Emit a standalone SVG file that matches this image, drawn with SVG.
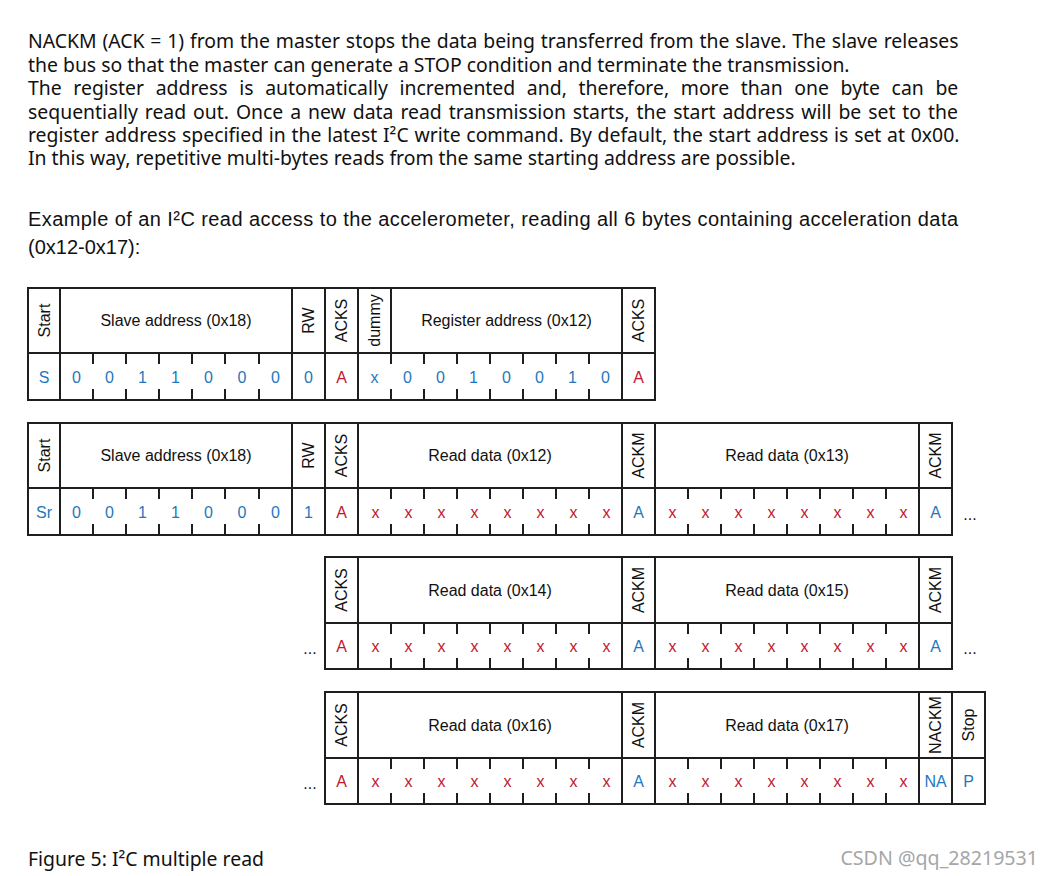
<svg xmlns="http://www.w3.org/2000/svg" width="1043" height="876" viewBox="0 0 1043 876">
<style>
.ln{fill:none;stroke:#1e1e1e;stroke-width:2}
.h{font-family:"Liberation Sans",Arial,sans-serif;font-size:16px;fill:#111;text-anchor:middle;dominant-baseline:central}
.d{font-family:"Liberation Sans",Arial,sans-serif;font-size:16px;text-anchor:middle;dominant-baseline:central}
.bl{fill:#1f77bd}
.rd{fill:#c3162c}
.k{fill:#111}
.p{font-family:"Noto Sans","Open Sans",sans-serif;font-size:19.4px;fill:#111}
.a{font-family:"Liberation Sans",Arial,sans-serif;font-size:20px;fill:#111}
</style>
<rect width="1043" height="876" fill="#fff"/>

<g id="paragraph">
<text class="p" x="28" y="48" word-spacing="0.8">NACKM (ACK = 1) from the master stops the data being transferred from the slave. The slave releases</text>
<text class="p" x="28" y="71.5">the bus so that the master can generate a STOP condition and terminate the transmission.</text>
<text class="p" x="28" y="95" word-spacing="6.6">The register address is automatically incremented and, therefore, more than one byte can be</text>
<text class="p" x="28" y="118.5" word-spacing="1.9">sequentially read out. Once a new data read transmission starts, the start address will be set to the</text>
<text class="p" x="28" y="142" word-spacing="0.7">register address specified in the latest I²C write command. By default, the start address is set at 0x00.</text>
<text class="p" x="28" y="165">In this way, repetitive multi-bytes reads from the same starting address are possible.</text>
</g>

<g id="example-intro">
<text class="a" x="28" y="226" textLength="930" lengthAdjust="spacing">Example of an I²C read access to the accelerometer, reading all 6 bytes containing acceleration data</text>
<text class="a" x="28" y="254">(0x12-0x17):</text>
</g>

<g id="connectors">
<path class="ln" d="M93 353V364M93 389V400M126 353V364M126 389V400M159 353V364M159 389V400M192 353V364M192 389V400M225 353V364M225 389V400M259 353V364M259 389V400M391 353V364M391 389V400M424 353V364M424 389V400M457 353V364M457 389V400M490 353V364M490 389V400M523 353V364M523 389V400M556 353V364M556 389V400M589 353V364M589 389V400"/>
<path class="ln" d="M93 488V499M93 524V535M126 488V499M126 524V535M159 488V499M159 524V535M192 488V499M192 524V535M225 488V499M225 524V535M259 488V499M259 524V535M391 488V499M391 524V535M424 488V499M424 524V535M457 488V499M457 524V535M490 488V499M490 524V535M523 488V499M523 524V535M556 488V499M556 524V535M589 488V499M589 524V535M688 488V499M688 524V535M721 488V499M721 524V535M754 488V499M754 524V535M787 488V499M787 524V535M820 488V499M820 524V535M853 488V499M853 524V535M886 488V499M886 524V535"/>
<path class="ln" d="M391 623V634M391 658V669M424 623V634M424 658V669M457 623V634M457 658V669M490 623V634M490 658V669M523 623V634M523 658V669M556 623V634M556 658V669M589 623V634M589 658V669M688 623V634M688 658V669M721 623V634M721 658V669M754 623V634M754 658V669M787 623V634M787 658V669M820 623V634M820 658V669M853 623V634M853 658V669M886 623V634M886 658V669"/>
<path class="ln" d="M391 758V769M391 793V804M424 758V769M424 793V804M457 758V769M457 793V804M490 758V769M490 793V804M523 758V769M523 793V804M556 758V769M556 793V804M589 758V769M589 793V804M688 758V769M688 793V804M721 758V769M721 793V804M754 758V769M754 793V804M787 758V769M787 793V804M820 758V769M820 793V804M853 758V769M853 793V804M886 758V769M886 793V804"/>
</g>

<g id="frame1">
<rect class="ln" x="28" y="288" width="627" height="112"/>
<path class="ln" d="M28 353H655M60 288V400M292 288V400M325 288V400M358 288V400M391 288V353M622 288V400"/>
<text class="h" transform="translate(44,320.5) rotate(-90)">Start</text>
<text class="h" x="176" y="320.5">Slave address (0x18)</text>
<text class="h" transform="translate(308.5,320.5) rotate(-90)">RW</text>
<text class="h" transform="translate(341.5,320.5) rotate(-90)">ACKS</text>
<text class="h" transform="translate(374.5,320.5) rotate(-90)">dummy</text>
<text class="h" x="506.5" y="320.5">Register address (0x12)</text>
<text class="h" transform="translate(638.5,320.5) rotate(-90)">ACKS</text>
<g class="d bl">
<text x="44" y="377">S</text><text x="76.5" y="377">0</text><text x="109.5" y="377">0</text><text x="142.5" y="377">1</text><text x="175.5" y="377">1</text><text x="208.5" y="377">0</text><text x="242" y="377">0</text><text x="275.5" y="377">0</text><text x="308.5" y="377">0</text>
<text x="374.5" y="377">x</text><text x="407.5" y="377">0</text><text x="440.5" y="377">0</text><text x="473.5" y="377">1</text><text x="506.5" y="377">0</text><text x="539.5" y="377">0</text><text x="572.5" y="377">1</text><text x="605.5" y="377">0</text>
</g>
<g class="d rd"><text x="341.5" y="377">A</text><text x="638.5" y="377">A</text></g>
</g>

<g id="frame2">
<rect class="ln" x="28" y="423" width="924" height="112"/>
<path class="ln" d="M28 488H952M60 423V535M292 423V535M325 423V535M358 423V535M622 423V535M655 423V535M919 423V535"/>
<text class="h" transform="translate(44,455.5) rotate(-90)">Start</text>
<text class="h" x="176" y="455.5">Slave address (0x18)</text>
<text class="h" transform="translate(308.5,455.5) rotate(-90)">RW</text>
<text class="h" transform="translate(341.5,455.5) rotate(-90)">ACKS</text>
<text class="h" x="490" y="455.5">Read data (0x12)</text>
<text class="h" transform="translate(638.5,455.5) rotate(-90)">ACKM</text>
<text class="h" x="787" y="455.5">Read data (0x13)</text>
<text class="h" transform="translate(935.5,455.5) rotate(-90)">ACKM</text>
<g class="d bl">
<text x="44" y="512">Sr</text><text x="76.5" y="512">0</text><text x="109.5" y="512">0</text><text x="142.5" y="512">1</text><text x="175.5" y="512">1</text><text x="208.5" y="512">0</text><text x="242" y="512">0</text><text x="275.5" y="512">0</text><text x="308.5" y="512">1</text>
<text x="638.5" y="512">A</text><text x="935.5" y="512">A</text>
</g>
<g class="d rd">
<text x="341.5" y="512">A</text>
<text x="375.5" y="512">x</text><text x="408.5" y="512">x</text><text x="441.5" y="512">x</text><text x="474.5" y="512">x</text><text x="507.5" y="512">x</text><text x="540.5" y="512">x</text><text x="573.5" y="512">x</text><text x="606.5" y="512">x</text>
<text x="672.5" y="512">x</text><text x="705.5" y="512">x</text><text x="738.5" y="512">x</text><text x="771.5" y="512">x</text><text x="804.5" y="512">x</text><text x="837.5" y="512">x</text><text x="870.5" y="512">x</text><text x="903.5" y="512">x</text>
</g>
<text class="d k" x="970" y="514">...</text>
</g>

<g id="frame3">
<rect class="ln" x="325" y="557" width="627" height="112"/>
<path class="ln" d="M325 623H952M358 557V669M622 557V669M655 557V669M919 557V669"/>
<text class="h" transform="translate(341.5,590) rotate(-90)">ACKS</text>
<text class="h" x="490" y="590">Read data (0x14)</text>
<text class="h" transform="translate(638.5,590) rotate(-90)">ACKM</text>
<text class="h" x="787" y="590">Read data (0x15)</text>
<text class="h" transform="translate(935.5,590) rotate(-90)">ACKM</text>
<g class="d bl"><text x="638.5" y="646">A</text><text x="935.5" y="646">A</text></g>
<g class="d rd">
<text x="341.5" y="646">A</text>
<text x="375.5" y="646">x</text><text x="408.5" y="646">x</text><text x="441.5" y="646">x</text><text x="474.5" y="646">x</text><text x="507.5" y="646">x</text><text x="540.5" y="646">x</text><text x="573.5" y="646">x</text><text x="606.5" y="646">x</text>
<text x="672.5" y="646">x</text><text x="705.5" y="646">x</text><text x="738.5" y="646">x</text><text x="771.5" y="646">x</text><text x="804.5" y="646">x</text><text x="837.5" y="646">x</text><text x="870.5" y="646">x</text><text x="903.5" y="646">x</text>
</g>
<text class="d k" x="310" y="648">...</text>
<text class="d k" x="970" y="648">...</text>
</g>

<g id="frame4">
<rect class="ln" x="325" y="692" width="660" height="112"/>
<path class="ln" d="M325 758H985M358 692V804M622 692V804M655 692V804M919 692V804M952 692V804"/>
<text class="h" transform="translate(341.5,725) rotate(-90)">ACKS</text>
<text class="h" x="490" y="725">Read data (0x16)</text>
<text class="h" transform="translate(638.5,725) rotate(-90)">ACKM</text>
<text class="h" x="787" y="725">Read data (0x17)</text>
<text class="h" transform="translate(935.5,725) rotate(-90)">NACKM</text>
<text class="h" transform="translate(968.5,725) rotate(-90)">Stop</text>
<g class="d bl"><text x="638.5" y="781">A</text><text x="935.5" y="781">NA</text><text x="968.5" y="781">P</text></g>
<g class="d rd">
<text x="341.5" y="781">A</text>
<text x="375.5" y="781">x</text><text x="408.5" y="781">x</text><text x="441.5" y="781">x</text><text x="474.5" y="781">x</text><text x="507.5" y="781">x</text><text x="540.5" y="781">x</text><text x="573.5" y="781">x</text><text x="606.5" y="781">x</text>
<text x="672.5" y="781">x</text><text x="705.5" y="781">x</text><text x="738.5" y="781">x</text><text x="771.5" y="781">x</text><text x="804.5" y="781">x</text><text x="837.5" y="781">x</text><text x="870.5" y="781">x</text><text x="903.5" y="781">x</text>
</g>
<text class="d k" x="310" y="783">...</text>
</g>

<g id="caption">
<text class="p" x="28" y="866">Figure 5: I²C multiple read</text>
<text x="1038" y="865" text-anchor="end" style="font-family:'Noto Sans','Open Sans',sans-serif;font-size:19.6px;fill:#a6a6a6">CSDN @qq_28219531</text>
</g>
</svg>
